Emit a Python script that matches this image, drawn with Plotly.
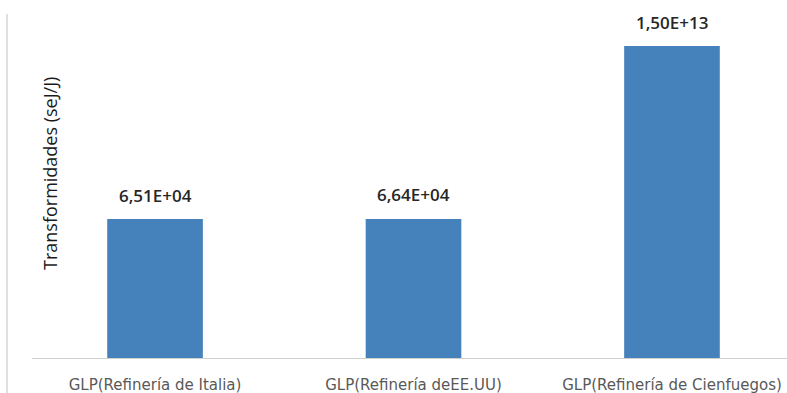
import plotly.graph_objects as go
import math

categories = ["GLP(Refinería de Italia)", "GLP(Refinería deEE.UU)", "GLP(Refinería de Cienfuegos)"]
values = [6.51e4, 6.64e4, 1.50e13]
value_labels = ["6,51E+04", "6,64E+04", "1,50E+13"]

fig = go.Figure()
fig.add_trace(go.Bar(
    x=categories, y=values, width=0.37,
    marker=dict(color="#4581BA", line=dict(width=0)),
    hoverinfo="skip",
))

for c, v, t in zip(categories, values, value_labels):
    fig.add_annotation(x=c, y=math.log10(v), text=t, showarrow=False,
                       yshift=24, xanchor="center", yanchor="middle",
                       font=dict(family="Open Sans", size=17, weight=600, color="#262626"))

fig.add_annotation(xref="paper", yref="paper", x=(50 - 32) / 755, y=(358 - 174) / 358,
                   text="Transformidades (seJ/J)", textangle=-90, showarrow=False,
                   xanchor="center", yanchor="middle",
                   font=dict(family="Open Sans", size=18, color="#1a1a1a"))

fig.add_shape(type="line", xref="paper", yref="paper",
              x0=(7 - 32) / 755, x1=(7 - 32) / 755, y0=(358 - 14) / 358, y1=-0.1,
              line=dict(color="#e0e0e0", width=2))

fig.update_layout(
    width=787, height=393,
    margin=dict(l=32, r=0, t=0, b=35),
    paper_bgcolor="white", plot_bgcolor="white",
    showlegend=False,
    xaxis=dict(range=[-0.476, 2.445], showline=True, linecolor="#d0d0d0", linewidth=1,
               showgrid=False, ticks="", zeroline=False, ticklabelstandoff=13,
               tickfont=dict(family="DejaVu Sans", size=15, color="#595959")),
    yaxis=dict(type="log", range=[-1.9, 15.4], showticklabels=False, showgrid=False,
               zeroline=False, showline=False, ticks=""),
)

fig.write_html("out.html")
